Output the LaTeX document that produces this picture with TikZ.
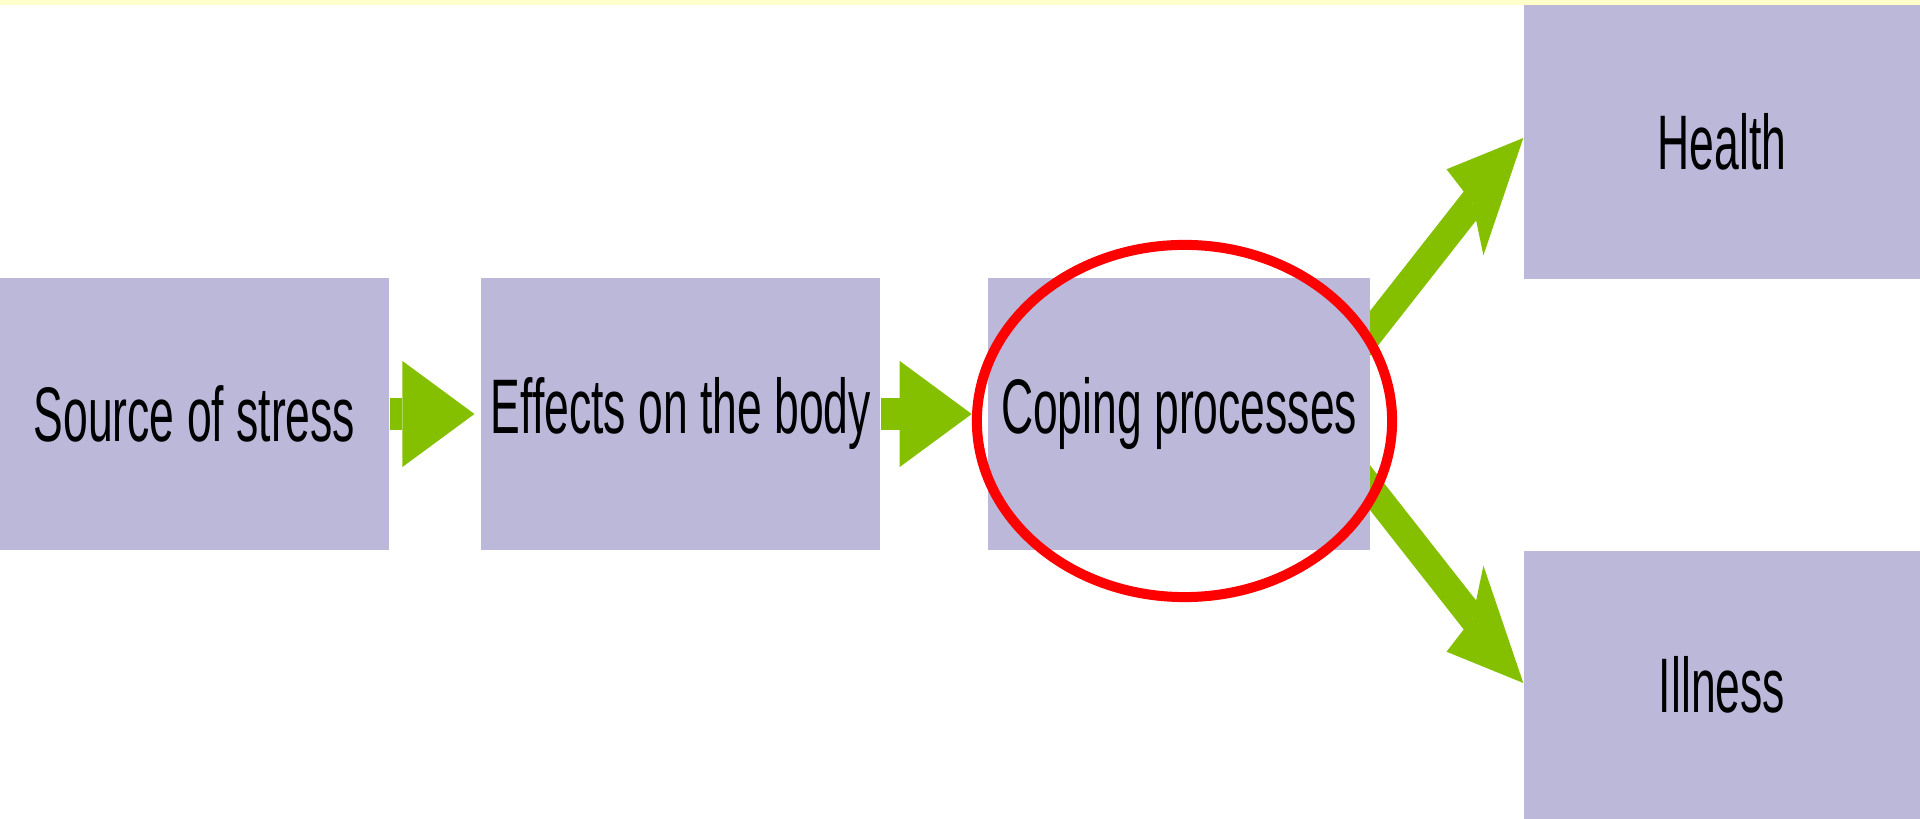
\documentclass[tikz,border=0pt]{standalone}
\usepackage{fontspec}
\setmainfont{Liberation Sans}[FakeStretch=0.575]
\usetikzlibrary{arrows.meta,positioning,calc,backgrounds}

\definecolor{boxfill}{HTML}{BBB8D9}
\definecolor{arrowgreen}{HTML}{85C000}
\definecolor{stripyellow}{HTML}{FFFFCC}

\begin{document}
\begin{tikzpicture}[x=0.01cm,y=-0.01cm]
    \tikzset{block/.style= {fill=boxfill, rectangle
    , inner sep=0pt
    , minimum height=2.72cm
    , align=center
    , font=\fontsize{22}{26}\selectfont
      }
    , flow/.style= {draw=arrowgreen, line width=0.31cm
    , -{Triangle[length=0.72cm,width=1.06cm,line width=0pt]}
      }
    , branch/.style= {draw=arrowgreen, line width=0.36cm
    , -{Stealth[length=1.25cm,width=1.07cm,inset=0.16cm,line width=0pt]}
      }
    }
\useasboundingbox (0,0) rectangle (1920,819);

\node [block, minimum width=3.89cm] (source) at (194.5,414) {Source of stress};
\node [block, minimum width=3.99cm, right of=source, node distance=4.86cm] (effects) {Effects on the body};
\node [block, minimum width=3.81cm, right of=effects, node distance=4.98cm] (coping) {Coping processes};
\node [block, minimum width=3.96cm, minimum height=2.74cm] (health) at (1722,142) {Health};
\node [block, minimum width=3.96cm, minimum height=2.68cm] (illness) at (1722,685) {Illness};

\begin{scope}[on background layer]
 \path[flow, shorten >=0.06cm] (source) -- (effects.west);
 \path[flow, shorten >=0.16cm] (effects.east) -- (coping.west);
 % the branches are drawn wide and squeezed like the rest of the chart
 \begin{scope}[transform canvas={xscale=0.58}]
 \path[branch] let \p1=($(coping.east)+(-12,-66)$), \p2=($(health.west)+(0,-4)$)
   in (\x1/0.58,\y1) -- (\x2/0.58,\y2);
 \path[branch] let \p1=($(coping.east)+(-12,59)$), \p2=($(illness.west)+(0,-2)$)
   in (\x1/0.58,\y1) -- (\x2/0.58,\y2);
 \end{scope}
\end{scope}

% marking round the coping step
\draw [red, line width=0.1cm] (1184.5,421) ellipse [x radius=2.075cm, y radius=1.76cm];

\fill [stripyellow] (0,0) rectangle (1920,5);
\end{tikzpicture}
\end{document}
